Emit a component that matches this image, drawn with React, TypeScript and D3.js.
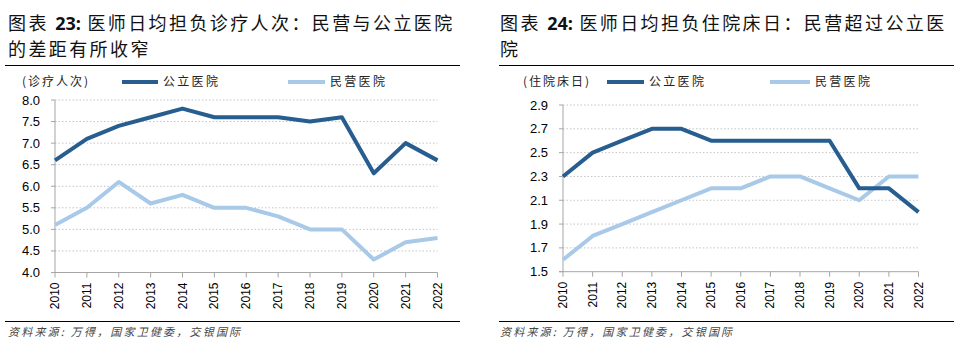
import * as d3 from 'd3';

const years = ['2010', '2011', '2012', '2013', '2014', '2015', '2016', '2017', '2018', '2019', '2020', '2021', '2022'];

// 图表23: 医师日均担负诊疗人次
const visitPublic = [6.6, 7.1, 7.4, 7.6, 7.8, 7.6, 7.6, 7.6, 7.5, 7.6, 6.3, 7.0, 6.6];
const visitPrivate = [5.1, 5.5, 6.1, 5.6, 5.8, 5.5, 5.5, 5.3, 5.0, 5.0, 4.3, 4.7, 4.8];
const visitTicks = [4.0, 4.5, 5.0, 5.5, 6.0, 6.5, 7.0, 7.5, 8.0];

// 图表24: 医师日均担负住院床日
const bedPublic = [2.3, 2.5, 2.6, 2.7, 2.7, 2.6, 2.6, 2.6, 2.6, 2.6, 2.2, 2.2, 2.0];
const bedPrivate = [1.6, 1.8, 1.9, 2.0, 2.1, 2.2, 2.2, 2.3, 2.3, 2.2, 2.1, 2.3, 2.3];
const bedTicks = [1.5, 1.7, 1.9, 2.1, 2.3, 2.5, 2.7, 2.9];

const DARK = '#275d8f';
const LIGHT = '#a9c9e8';
const CJK = '"Noto Sans CJK SC", sans-serif';
const NUM = '"Liberation Sans", Arial, sans-serif';

type PanelProps = {
  x0: number;
  ruleX0: number;
  ruleX1: number;
  titleNo: string;
  title1: string;
  title2: string;
  unit: string;
  unitX: number;
  leg1: [number, number];
  leg2: [number, number];
  pub: number[];
  pri: number[];
  ticks: number[];
  plotX: [number, number];
  plotY: [number, number];
};

function Panel(p: PanelProps) {
  const x = d3.scalePoint<string>().domain(years).range(p.plotX);
  const y = d3
    .scaleLinear()
    .domain([p.ticks[0], p.ticks[p.ticks.length - 1]])
    .range(p.plotY);
  const line = d3
    .line<number>()
    .x((_, i) => x(years[i]) as number)
    .y((d) => y(d));
  const axisX = p.plotX[0];
  const bottom = p.plotY[0];
  const decimals = 1;

  return (
    <g>
      <text x={p.x0} y={30} fontFamily={CJK} fontSize={18} letterSpacing={2.4} fill="#111">
        {'图表 '}
        <tspan fontWeight="bold" fontFamily={'"Open Sans", sans-serif'} letterSpacing={0}>
          {p.titleNo}
        </tspan>
        {' ' + p.title1}
      </text>
      <text x={p.x0} y={56} fontFamily={CJK} fontSize={18} letterSpacing={2.4} fill="#111">
        {p.title2}
      </text>
      <line x1={p.ruleX0} x2={p.ruleX1} y1={65.5} y2={65.5} stroke="#000" strokeWidth={1} />

      {/* legend */}
      <text x={p.unitX} y={86} fontFamily={CJK} fontSize={12} letterSpacing={2} fill="#222">
        {p.unit}
      </text>
      <line x1={p.leg1[0]} x2={p.leg1[1]} y1={82} y2={82} stroke={DARK} strokeWidth={4} />
      <text x={p.leg1[1] + 5} y={86} fontFamily={CJK} fontSize={12} letterSpacing={2.3} fill="#222">
        公立医院
      </text>
      <line x1={p.leg2[0]} x2={p.leg2[1]} y1={82} y2={82} stroke={LIGHT} strokeWidth={4} />
      <text x={p.leg2[1] + 5} y={86} fontFamily={CJK} fontSize={12} letterSpacing={2.3} fill="#222">
        民营医院
      </text>

      {/* gridlines and y ticks */}
      {p.ticks.map((t) => (
        <g key={t}>
          {t !== p.ticks[0] && (
            <line
              x1={axisX}
              x2={p.plotX[1]}
              y1={y(t)}
              y2={y(t)}
              stroke="#c4c4c4"
              strokeWidth={1}
              strokeDasharray="1.5,2"
            />
          )}
          <line x1={axisX - 4} x2={axisX} y1={y(t)} y2={y(t)} stroke="#a6a6a6" />
          <text
            x={axisX - 15}
            y={y(t)}
            dy="0.35em"
            textAnchor="end"
            fontFamily={NUM}
            fontSize={13}
            fill="#000"
          >
            {t.toFixed(decimals)}
          </text>
        </g>
      ))}
      <line x1={axisX} x2={axisX} y1={p.plotY[1]} y2={bottom} stroke="#a6a6a6" />
      <line x1={axisX - 4} x2={p.plotX[1]} y1={bottom} y2={bottom} stroke="#a6a6a6" />

      {/* x ticks and labels */}
      {years.map((yr) => (
        <g key={yr}>
          <line x1={x(yr)} x2={x(yr)} y1={bottom} y2={bottom + 5} stroke="#a6a6a6" />
          <text
            transform={`translate(${(x(yr) as number) + 4},${bottom + 10}) rotate(-90)`}
            textAnchor="end"
            fontFamily={NUM}
            fontSize={12}
            fill="#000"
          >
            {yr}
          </text>
        </g>
      ))}

      <path d={line(p.pri) ?? ''} fill="none" stroke={LIGHT} strokeWidth={4} strokeLinejoin="round" />
      <path d={line(p.pub) ?? ''} fill="none" stroke={DARK} strokeWidth={4} strokeLinejoin="round" />

      <line x1={p.ruleX0} x2={p.ruleX1} y1={321.5} y2={321.5} stroke="#000" strokeWidth={1} />
      <text
        x={p.x0}
        y={336}
        fontFamily={CJK}
        fontSize={11}
        fontStyle="italic"
        letterSpacing={2.2}
        fill="#444"
      >
        资料来源: 万得，国家卫健委，交银国际
      </text>
    </g>
  );
}

export default function App() {
  return (
    <svg
      width={954}
      height={352}
      style={{ position: 'absolute', left: 0, top: 0, background: '#fff' }}
    >
      <Panel
        x0={8}
        ruleX0={5}
        ruleX1={460}
        titleNo="23:"
        title1="医师日均担负诊疗人次：民营与公立医院"
        title2="的差距有所收窄"
        unit="(诊疗人次)"
        unitX={22}
        leg1={[122, 158]}
        leg2={[288, 325]}
        pub={visitPublic}
        pri={visitPrivate}
        ticks={visitTicks}
        plotX={[55, 437.5]}
        plotY={[272.5, 100]}
      />
      <Panel
        x0={500}
        ruleX0={499}
        ruleX1={954}
        titleNo="24:"
        title1="医师日均担负住院床日：民营超过公立医"
        title2="院"
        unit="(住院床日)"
        unitX={523}
        leg1={[607, 644]}
        leg2={[770, 810]}
        pub={bedPublic}
        pri={bedPrivate}
        ticks={bedTicks}
        plotX={[563, 918.5]}
        plotY={[271.7, 105]}
      />
    </svg>
  );
}
